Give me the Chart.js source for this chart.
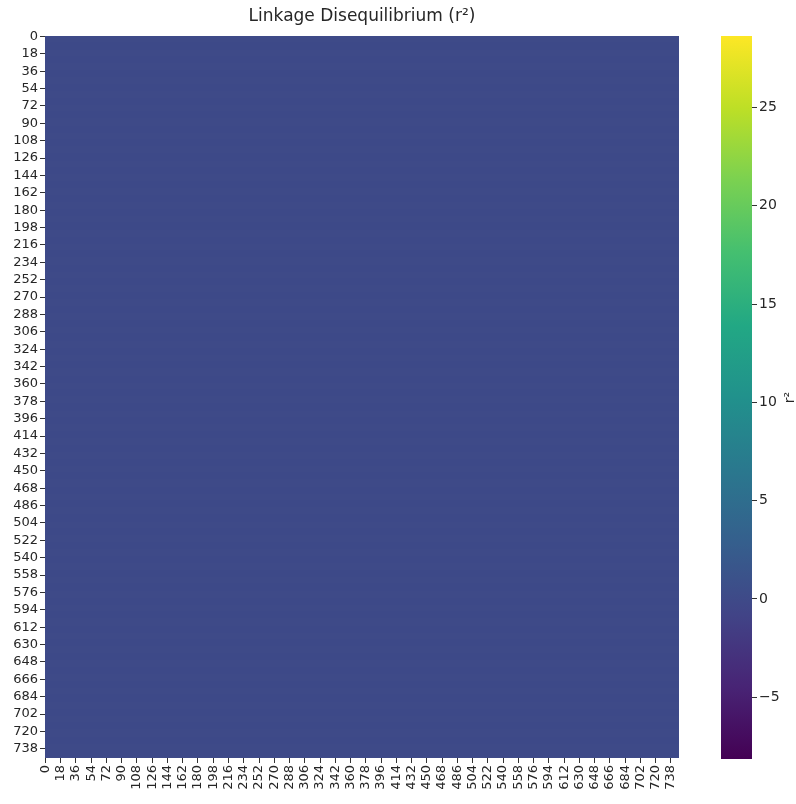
<!DOCTYPE html>
<html>
<head>
<meta charset="utf-8">
<script src="https://cdn.jsdelivr.net/npm/chart.js@4.4.1/dist/chart.umd.min.js"></script>
<style>
  html, body { margin: 0; padding: 0; background: #fff; }
  #wrap { position: relative; width: 796px; height: 804px; }
  #wrap canvas { position: absolute; left: 0; top: 0; }
</style>
</head>
<body>
<div id="wrap">
  <canvas id="ld" width="796" height="804"></canvas>
  <canvas id="cbar" width="796" height="804"></canvas>
</div>
<script>
// ---- data ----
const nSnps = 748;                                   // SNPs on each side of the LD matrix
const snpLabels = Array.from({ length: nSnps }, (_, i) => String(i));
const tickEvery = 18;                                 // show every 18th SNP index
const tickLabels = snpLabels.filter((_, i) => i % tickEvery === 0);
// r² per row of the matrix: every pair in this window sits at 0
const r2RowValues = new Array(nSnps).fill(0);
const colorMin = -8.14;
const colorMax = 28.64;
const colorbarTicks = [-5, 0, 5, 10, 15, 20, 25];

// ---- viridis colour map ----
const viridisStops = ['#440154', '#482475', '#414487', '#355f8d', '#2a788e',
  '#21918c', '#22a884', '#44bf70', '#7ad151', '#bddf26', '#fde725'];
function hexToRgb(h) {
  return [parseInt(h.slice(1, 3), 16), parseInt(h.slice(3, 5), 16), parseInt(h.slice(5, 7), 16)];
}
function viridis(t) {
  t = Math.min(1, Math.max(0, t));
  const p = t * (viridisStops.length - 1);
  const i = Math.min(viridisStops.length - 2, Math.floor(p));
  const f = p - i;
  const a = hexToRgb(viridisStops[i]), b = hexToRgb(viridisStops[i + 1]);
  const c = a.map((v, k) => Math.round(v + (b[k] - v) * f));
  return `rgb(${c[0]},${c[1]},${c[2]})`;
}
const norm = v => (v - colorMin) / (colorMax - colorMin);

const FONT = "'DejaVu Sans', sans-serif";
const TEXT = '#262626';

// title drawn centred over the matrix
const titlePlugin = {
  id: 'ldTitle',
  afterDraw(chart) {
    const { ctx, chartArea } = chart;
    ctx.save();
    ctx.font = `17px ${FONT}`;
    ctx.fillStyle = TEXT;
    ctx.textAlign = 'center';
    ctx.textBaseline = 'middle';
    ctx.fillText('Linkage Disequilibrium (r²)', (chartArea.left + chartArea.right) / 2, 17);
    ctx.restore();
  }
};

// ---- LD matrix: one full-width row per SNP ----
new Chart(document.getElementById('ld'), {
  type: 'bar',
  data: {
    labels: snpLabels,
    datasets: [{
      data: r2RowValues.map(() => [0, nSnps]),
      backgroundColor: r2RowValues.map(v => viridis(norm(v))),
      borderWidth: 0,
      barPercentage: 1.8,
      categoryPercentage: 1
    }]
  },
  options: {
    indexAxis: 'y',
    responsive: false,
    animation: false,
    events: [],
    layout: { padding: { top: 36, right: 117, left: 0, bottom: 0 } },
    plugins: { legend: { display: false }, tooltip: { enabled: false } },
    scales: {
      y: {
        type: 'category',
        border: { display: false },
        grid: { offset: false, drawOnChartArea: false, drawTicks: true, tickLength: 5, color: '#333', lineWidth: 1 },
        ticks: {
          autoSkip: false,
          padding: 2,
          color: TEXT,
          font: { family: FONT, size: 13 },
          callback: (v, i) => (i % tickEvery === 0 ? snpLabels[i] : null)
        },
        afterFit: s => { s.width = 45; }
      },
      x: {
        type: 'linear',
        min: 0,
        max: nSnps,
        border: { display: false },
        grid: { drawOnChartArea: false, drawTicks: true, tickLength: 5, color: '#333', lineWidth: 1 },
        afterBuildTicks: s => { s.ticks = tickLabels.map(l => ({ value: Number(l) + 0.5 })); },
        ticks: {
          autoSkip: false,
          minRotation: 90,
          maxRotation: 90,
          padding: 2,
          color: TEXT,
          font: { family: FONT, size: 13 },
          callback: v => String(v - 0.5)
        },
        afterFit: s => { s.height = 46; }
      }
    }
  },
  plugins: [titlePlugin]
});

// ---- colour bar ----
const cbarLabelPlugin = {
  id: 'cbarLabel',
  afterDraw(chart) {
    const { ctx, chartArea } = chart;
    ctx.save();
    ctx.font = `14px ${FONT}`;
    ctx.fillStyle = TEXT;
    ctx.textAlign = 'center';
    ctx.textBaseline = 'middle';
    ctx.translate(790, (chartArea.top + chartArea.bottom) / 2);
    ctx.rotate(-Math.PI / 2);
    ctx.fillText('r²', 0, 0);
    ctx.restore();
  }
};

new Chart(document.getElementById('cbar'), {
  type: 'bar',
  data: {
    labels: ['r²'],
    datasets: [{
      data: [[colorMin, colorMax]],
      borderWidth: 0,
      barPercentage: 1,
      categoryPercentage: 1,
      backgroundColor: ctx => {
        const chart = ctx.chart;
        if (!chart.chartArea) return viridis(0.5);
        const y = chart.scales.y;
        const g = chart.ctx.createLinearGradient(0, y.getPixelForValue(colorMin), 0, y.getPixelForValue(colorMax));
        viridisStops.forEach((c, i) => g.addColorStop(i / (viridisStops.length - 1), c));
        return g;
      }
    }]
  },
  options: {
    responsive: false,
    animation: false,
    events: [],
    layout: { padding: { top: 36, left: 721, right: 0, bottom: 45 } },
    plugins: { legend: { display: false }, tooltip: { enabled: false } },
    scales: {
      x: { display: false },
      y: {
        position: 'right',
        min: colorMin,
        max: colorMax,
        border: { display: false },
        grid: { drawOnChartArea: false, drawTicks: true, tickLength: 5, color: '#333' },
        afterBuildTicks: s => { s.ticks = colorbarTicks.map(v => ({ value: v })); },
        ticks: {
          padding: 2,
          color: TEXT,
          font: { family: FONT, size: 14 },
          callback: v => (v < 0 ? '\u2212' + Math.abs(v) : String(v))
        },
        afterFit: s => { s.width = 44; }
      }
    }
  },
  plugins: [cbarLabelPlugin]
});
</script>
</body>
</html>
